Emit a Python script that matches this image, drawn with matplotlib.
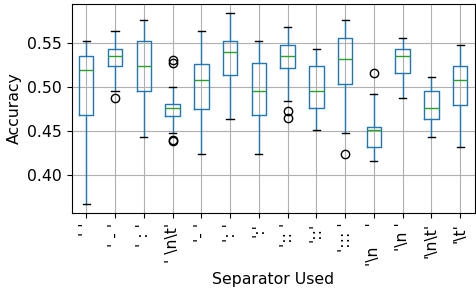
import matplotlib
matplotlib.use("Agg")
import matplotlib.pyplot as plt

# separators (the chart shows repr() of each one)
separators = [' ', ' - ', ' : ', ' \n\t', '- ', ': ', ':', ':: ', '::', '::: ',
              '\n    ', '\n ', '\n\t', '\t']

whislo = [0.368, 0.496, 0.444, 0.448, 0.424, 0.464, 0.424, 0.484, 0.452, 0.448,
          0.416, 0.488, 0.444, 0.432]
q1 = [0.468, 0.524, 0.496, 0.467, 0.475, 0.514, 0.468, 0.522, 0.476, 0.504,
      0.432, 0.516, 0.464, 0.480]
med = [0.520, 0.536, 0.524, 0.476, 0.508, 0.540, 0.496, 0.536, 0.496, 0.532,
       0.452, 0.536, 0.476, 0.508]
q3 = [0.536, 0.544, 0.552, 0.481, 0.526, 0.552, 0.528, 0.548, 0.524, 0.556,
      0.455, 0.544, 0.496, 0.524]
whishi = [0.552, 0.564, 0.576, 0.500, 0.564, 0.584, 0.552, 0.568, 0.544, 0.576,
          0.492, 0.556, 0.512, 0.548]
fliers = [[], [0.488], [], [0.531, 0.528, 0.440, 0.439], [], [], [],
          [0.473, 0.465], [], [0.424], [0.516], [], [], []]

stats = []
for i in range(len(separators)):
    stats.append(dict(whislo=whislo[i], q1=q1[i], med=med[i], q3=q3[i],
                      whishi=whishi[i], fliers=fliers[i]))

plt.rcParams['font.size'] = 11.3

fig, ax = plt.subplots(figsize=(4.76, 2.91), dpi=100)
fig.subplots_adjust(left=0.151, right=0.997, top=0.987, bottom=0.268)

ax.bxp(stats, positions=range(1, len(stats) + 1), widths=0.5,
       boxprops=dict(color='#1f77b4'),
       whiskerprops=dict(color='#1f77b4'),
       medianprops=dict(color='#2ca02c'),
       capprops=dict(color='black'),
       flierprops=dict(marker='o', markerfacecolor='none',
                       markeredgecolor='black', markersize=6))

ax.set_xticks(range(1, len(stats) + 1))
ax.set_xticklabels([repr(s) for s in separators], rotation=90)
ax.grid(True, color='#b0b0b0', linewidth=0.8)
ax.set_axisbelow(True)
ax.set_xlabel('Separator Used')
ax.set_ylabel('Accuracy')
ax.set_yticks([0.40, 0.45, 0.50, 0.55])

fig.savefig('out.png', dpi=100)
